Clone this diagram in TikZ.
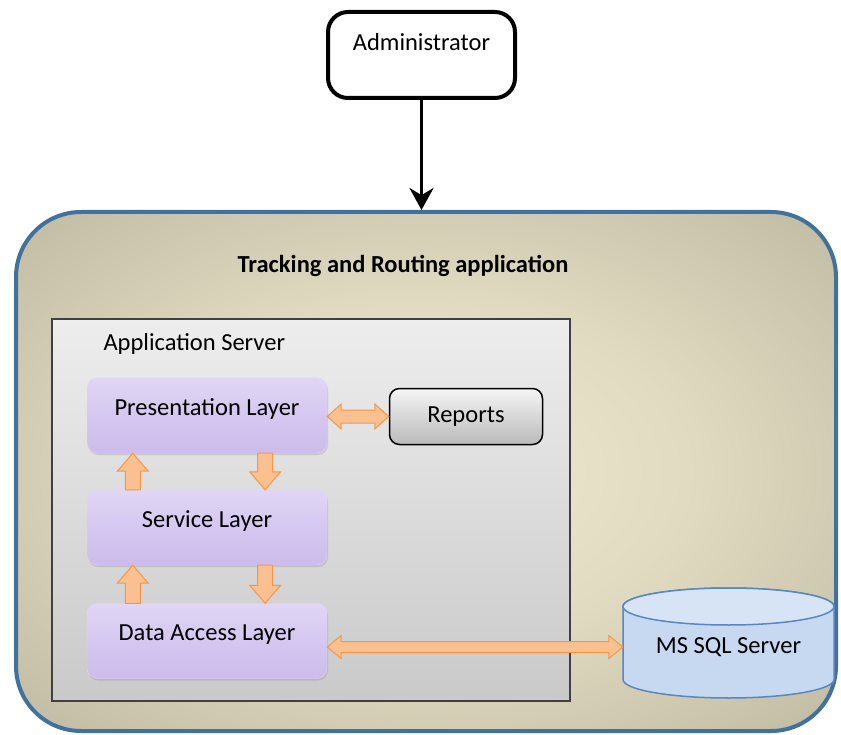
\documentclass[tikz,border=0pt]{standalone}
\usepackage{fontspec}
\setmainfont{Carlito}
\usepackage{tikz}
\usetikzlibrary{arrows.meta,positioning,calc,shadows}
\definecolor{trblue}{HTML}{41719C}
\definecolor{trglowin}{HTML}{EFE9D1}
\definecolor{trglowmid}{HTML}{E1DBC1}
\definecolor{trglowout}{HTML}{96927D}
\definecolor{trlavtop}{HTML}{FAF8FE}
\definecolor{trlavhi}{HTML}{E3DAF6}
\definecolor{trlavmid}{HTML}{D5C7F0}
\definecolor{trlavbot}{HTML}{C6B3E8}
\definecolor{trlavedge}{HTML}{E6DEF7}
\definecolor{trorange}{HTML}{F79646}
\definecolor{trpeach}{HTML}{FAC090}
\definecolor{trcylfill}{HTML}{C6D9F1}
\definecolor{trcyltop}{HTML}{D6E4F6}
\definecolor{trcylline}{HTML}{5A87C0}
\pgfdeclareradialshading{trglow}{\pgfpoint{0bp}{0bp}}{color(0bp)=(trglowin); color(16bp)=(trglowmid); color(60bp)=(trglowout); color(75bp)=(trglowout)}
\pgfdeclareverticalshading{trbevel}{100bp}{color(0bp)=(trlavedge); color(7bp)=(trlavbot); color(50bp)=(trlavmid); color(82bp)=(trlavhi); color(100bp)=(trlavtop)}
\newcommand{\trsize}{\fontsize{24.5}{29}\selectfont}

\begin{document}
\begin{tikzpicture}[
  x=1pt, y=-1pt,
  font=\trsize,
  >={Stealth[length=22pt,width=24pt]},
  adminbox/.style={draw=black, line width=4pt, rounded corners=20pt, fill=white,
                   minimum width=187pt, minimum height=86pt, text height=18pt, text depth=26pt},
  appbox/.style={draw=trblue, line width=4pt, rounded corners=65pt, shade, shading=trglow,
                 minimum width=820pt, minimum height=519pt},
  srvbox/.style={draw=black!75, line width=2pt, top color=black!7, bottom color=black!21,
                 minimum width=518pt, minimum height=382pt},
  layer/.style={rounded corners=10pt, shade, shading=trbevel, draw=trlavbot!50!white,
                drop shadow={shadow xshift=1pt, shadow yshift=-2pt, opacity=0.25},
                minimum width=240pt, minimum height=75pt, text height=18pt, text depth=19pt},
  rep/.style={draw=black, line width=1.5pt, rounded corners=10pt, top color=black!4,
              bottom color=black!27, minimum width=153pt, minimum height=56pt},
  blk/.style={draw=trorange, fill=trpeach, line width=1pt, line join=miter},
  cyl/.style={draw=trcylline, line width=1.5pt, fill=trcylfill},
]
\useasboundingbox (0,0) rectangle (841,735);

% block arrow, tip at #2 (vertical)
\newcommand{\vblk}[2]{\draw[blk] let \p1=(#1), \p2=(#2), \p3=($(\p2)!18pt!(\p1)$) in
  (\x1-7.5pt,\y1) -- (\x1-7.5pt,\y3) -- (\x1-15.5pt,\y3) -- (\x2,\y2)
  -- (\x1+15.5pt,\y3) -- (\x1+7.5pt,\y3) -- (\x1+7.5pt,\y1) -- cycle;}
% double block arrow, #1 left tip, #2 right tip, #3 shaft, #4 head
\newcommand{\hdblk}[4]{\draw[blk] let \p1=(#1), \p2=(#2) in
  (\x1,\y1) -- (\x1+14pt,\y1+#4) -- (\x1+14pt,\y1+#3) -- (\x2-14pt,\y1+#3)
  -- (\x2-14pt,\y1+#4) -- (\x2,\y1) -- (\x2-14pt,\y1-#4) -- (\x2-14pt,\y1-#3)
  -- (\x1+14pt,\y1-#3) -- (\x1+14pt,\y1-#4) -- cycle;}

% ---- outer frame ----
\node[appbox] (app) at (426,471.5) {};
\node[font=\trsize\bfseries] (title) at (403,266) {Tracking and Routing application};

% ---- administrator ----
\node[adminbox] (admin) at (421.5,55) {Administrator};
\draw[line width=3.5pt,->] (admin.south) -- (admin.south |- app.north);

% ---- application server ----
\node[srvbox] (srv) at (311,510) {};
\node[anchor=west] (srvlbl) at ($(srv.north west)+(49,26)$) {Application Server};

% ---- layers ----
\node[layer] (pres) at (207,415.5) {Presentation Layer};
\node[layer] (serv) at (207,527.5) {Service Layer};
\node[layer] (data) at (207,641) {Data Access Layer};
\node[rep] (rep) at (466,416.5) {Reports};

% ---- database ----
\draw[cyl] (623,606.5) -- (623,679.5) arc[start angle=180, end angle=360, x radius=105.5pt, y radius=18.5pt]
  -- (834,606.5) arc[start angle=0, end angle=180, x radius=105.5pt, y radius=18.5pt] -- cycle;
\draw[cyl, fill=trcyltop] (728.5,606.5) ellipse [x radius=105.5pt, y radius=18.5pt];
\node[minimum width=211pt] (sql) at (728.5,647) {MS SQL Server};

% ---- block arrows ----
\vblk{$(serv.north west)+(46,0)$}{$(pres.south west)+(46,0)$}
\vblk{$(pres.south east)+(-62,0)$}{$(serv.north east)+(-62,0)$}
\vblk{$(data.north west)+(46,0)$}{$(serv.south west)+(46,0)$}
\vblk{$(serv.south east)+(-62,0)$}{$(data.north east)+(-62,0)$}
\hdblk{pres.east |- rep.west}{rep.west}{6.5pt}{12.5pt}
\hdblk{data.east |- sql.west}{sql.west}{5.5pt}{11.5pt}

\end{tikzpicture}
\end{document}
